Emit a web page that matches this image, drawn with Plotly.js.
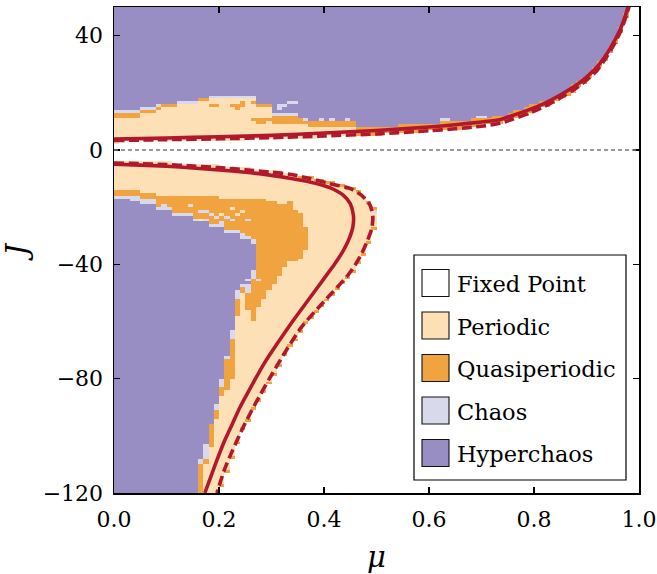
<!DOCTYPE html>
<html>
<head>
<meta charset="utf-8">
<script src="https://cdn.plot.ly/plotly-3.0.1.min.js"></script>
<style>html,body{margin:0;padding:0;background:#fff;}#chart{width:657px;height:574px;}</style>
</head>
<body>
<div id="chart"></div>
<script>
// ---------- categories ----------
const categories = ['Fixed Point', 'Periodic', 'Quasiperiodic', 'Chaos', 'Hyperchaos'];
const catColors = ['#ffffff', '#fee0b6', '#f1a340', '#d8daeb', '#998ec3'];

// ---------- grid (cell centres: mu = 0.005 + 0.01 k, J = -119.5 + r) ----------
const muFirst = 0.005, muStep = 0.01, nMu = 100;
const jFirst = -119.5, jStep = 1, nJ = 170;

// ---------- upper band (J > 0), one value per mu column ----------
const upBandLow = [2.5,2.6,2.6,2.7,2.7,2.7,2.8,2.8,2.9,2.9,
 2.9,3.0,3.0,3.1,3.1,3.1,3.2,3.2,3.3,3.3,
 3.3,3.4,3.4,3.5,3.5,3.6,3.6,3.7,3.7,3.8,
 3.8,3.9,4.0,4.1,4.2,4.2,4.3,4.4,4.5,4.6,
 4.6,4.7,4.8,4.9,4.9,5.0,5.1,5.2,5.3,5.4,
 5.5,5.6,5.7,5.9,6.0,6.1,6.2,6.3,6.5,6.6,
 6.7,6.9,7.0,7.2,7.3,7.5,7.7,7.9,8.1,8.4,
 8.6,8.8,9.1,9.5,9.9,10.4,11.0,11.6,12.3,13.1,
 13.9,14.6,15.4,16.3,17.2,18.3,19.4,20.5,21.7,23.2,
 24.9,26.7,28.7,31.2,34.2,37.2,41.2,46.2,99,99];
const upQuasiLow = [11.2,11.2,11.2,11.2,11.2,12.8,12.8,12.8,14.0,15.0,
 15.0,15.0,16.2,16.2,16.2,16.2,16.8,16.8,17.6,17.6,
 17.6,17.6,17.6,17.6,17.6,17.6,17.6,15.2,15.2,15.2,
 9.0,9.0,9.0,9.0,9.0,9.0,9.0,8.0,8.0,8.0,
 8.0,8.0,8.0,8.0,8.0,8.0,5.1,5.2,5.3,5.4,
 5.5,5.6,5.7,5.9,6.0,6.1,6.2,6.3,6.5,6.6,
 6.7,6.9,7.0,7.2,7.3,7.5,7.7,7.9,8.1,8.4,
 8.6,8.8,9.1,9.5,9.9,10.4,11.0,11.6,12.3,13.1,
 13.9,14.6,15.4,16.3,17.2,18.3,19.4,20.5,21.7,23.2,
 24.9,26.7,28.7,31.2,34.2,37.2,41.2,46.2,99,99];
const upChaosLow = [13.2,13.2,13.2,13.2,13.2,13.8,13.8,13.8,14.8,16.2,
 16.2,16.2,16.2,16.2,16.2,16.2,17.8,17.8,17.6,17.6,
 17.6,17.6,17.6,17.6,17.6,17.6,17.6,16.2,16.2,16.2,
 11.8,11.8,11.8,11.8,11.8,10.6,10.6,10.2,10.2,10.2,
 10.2,10.2,10.2,10.2,10.2,10.2,7.7,7.8,7.9,8.0,
 8.1,8.2,8.3,8.5,8.6,8.7,8.8,8.9,9.1,9.2,
 9.3,9.5,9.6,9.8,9.9,10.1,10.3,10.5,10.7,11.0,
 11.2,11.4,11.7,12.1,12.5,13.0,13.6,14.2,14.9,15.7,
 16.5,16.7,17.5,18.4,19.3,20.4,21.5,22.6,23.8,25.3,
 27.0,28.8,30.8,33.3,36.3,39.3,43.3,48.3,99,99];
const upHyperLow = [14.2,14.2,14.2,14.2,14.2,14.8,14.8,14.8,15.8,16.2,
 16.2,16.2,17.2,17.2,17.2,17.2,17.8,17.8,18.6,18.6,
 18.6,18.6,18.6,18.6,18.6,18.6,18.6,16.2,16.2,16.2,
 13.2,13.2,13.2,13.2,13.2,10.6,10.6,10.2,10.2,10.2,
 10.2,10.2,10.2,10.2,10.2,10.2,7.7,7.8,7.9,8.0,
 8.1,8.2,8.3,8.5,8.6,8.7,8.8,8.9,9.1,9.2,
 9.3,9.5,9.6,9.8,9.9,10.1,10.3,10.5,10.7,11.0,
 11.2,11.4,11.7,12.1,12.5,13.0,13.6,14.2,14.9,15.7,
 16.5,16.7,17.5,18.4,19.3,20.4,21.5,22.6,23.8,25.3,
 27.0,28.8,30.8,33.3,36.3,39.3,43.3,48.3,99,99];

// ---------- lower band (J < 0), columns mu = 0.005 .. 0.495 ----------
const lowBandTop = [-4.0,-4.1,-4.1,-4.1,-4.2,-4.2,-4.3,-4.4,-4.4,-4.5,
 -4.5,-4.6,-4.8,-4.9,-5.0,-5.1,-5.2,-5.3,-5.4,-5.5,
 -5.7,-5.8,-6.0,-6.1,-6.2,-6.4,-6.6,-6.8,-6.9,-7.1,
 -7.3,-7.5,-7.7,-7.9,-8.3,-8.7,-9.1,-9.5,-10.0,-10.4,
 -10.9,-11.4,-11.8,-12.3,-12.7,-13.5,-14.5,-16.0,-18.1,-20.0];
const lowQuasiTop = [-13.9,-13.9,-13.9,-13.9,-13.9,-14.6,-14.6,-14.6,-15.6,-15.6,
 -15.6,-15.6,-15.6,-15.6,-15.6,-15.6,-15.6,-15.6,-15.6,-15.6,
 -17.0,-17.0,-17.0,-17.0,-17.0,-17.0,-17.0,-17.0,-17.5,-18.0,
 -18.0,-19.0,-19.0,-18.5,-21.0,-22.0,-27.0,-59.3,-57.3,-55.2,
 -53.2,-51.2,-49.2,-47.2,-45.2,-42.9,-40.3,-37.2,-33.3,-28.5];
const lowChaosTop = [-16.5,-16.5,-16.5,-16.5,-16.5,-17.0,-17.0,-17.0,-20.0,-20.0,
 -20.0,-22.0,-22.0,-22.0,-22.0,-24.0,-24.0,-24.0,-26.0,-26.0,
 -26.0,-28.5,-28.5,-28.5,-30.5,-30.5,-31.0,-55.0,-52.0,-49.0,
 -47.0,-44.0,-41.0,-39.0,-39.0,-38.0,-35.0,-59.3,-57.3,-55.2,
 -53.2,-51.2,-49.2,-47.2,-45.2,-42.9,-40.3,-37.2,-33.3,-28.5];
const lowHyperTop = [-17.0,-17.0,-17.0,-18.0,-18.0,-19.5,-19.5,-19.5,-21.0,-21.0,
 -21.0,-23.0,-23.0,-23.0,-23.0,-25.0,-25.0,-25.0,-27.0,-27.0,
 -27.0,-29.5,-29.5,-29.5,-31.5,-31.5,-33.0,-55.0,-52.0,-49.0,
 -47.0,-44.0,-41.0,-39.0,-39.0,-38.0,-35.0,-59.3,-57.3,-55.2,
 -53.2,-51.2,-49.2,-47.2,-45.2,-42.9,-40.3,-37.2,-33.3,-28.5];
const lowHyperBottom = [-999,-999,-999,-999,-999,-999,-999,-999,-999,-999,
 -999,-999,-999,-999,-999,-999,-108,-103,-96,-89,
 -80,-73,-63,-49,-47,-47,-42,-55.0,-52.0,-49.0,
 -47.0,-44.0,-41.0,-39.0,-39.0,-38.0,-35.0,-59.3,-57.3,-55.2,
 -53.2,-51.2,-49.2,-47.2,-45.2,-42.9,-40.3,-37.2,-33.3,-28.5];
const lowChaosBottom = [-999,-999,-999,-999,-999,-999,-999,-999,-999,-999,
 -999,-999,-999,-999,-999,-999,-110,-108,-96,-91,
 -83,-73,-66,-52,-48,-50,-44,-55.0,-52.0,-49.0,
 -47.0,-44.0,-41.0,-39.0,-39.0,-38.0,-35.0,-59.3,-57.3,-55.2,
 -53.2,-51.2,-49.2,-47.2,-45.2,-42.9,-40.3,-37.2,-33.3,-28.5];
const lowQuasiBottom = [-999,-999,-999,-999,-999,-999,-999,-999,-999,-999,
 -999,-999,-999,-999,-999,-999,-121,-110,-104,-94,
 -86,-84,-80,-58,-50,-56,-60,-55.0,-52.0,-49.0,
 -47.0,-44.0,-41.0,-39.0,-39.0,-38.0,-35.0,-59.3,-57.3,-55.2,
 -53.2,-51.2,-49.2,-47.2,-45.2,-42.9,-40.3,-37.2,-33.3,-28.5];
const lowBandBottom = [-999,-999,-999,-999,-999,-999,-999,-999,-999,-999,
 -999,-999,-999,-999,-999,-999,-999,-999,-999,-999,
 -118.5,-113.5,-108.5,-103.5,-98.5,-94.9,-91.4,-88.1,-85.0,-82.0,
 -78.9,-75.7,-72.5,-69.5,-66.7,-63.8,-61.4,-59.3,-57.3,-55.2,
 -53.2,-51.2,-49.2,-47.2,-45.2,-42.9,-40.3,-37.2,-33.3,-28.5];

// ---------- isolated cells (column index, J centre, category index) ----------
const speckCol = [18,19,22,23,23,24,24,26,26,27,28,29,27,28,
  31,32,31,33,34,36,39,41,44,62,63,69,70,
  9,14,16,17,18,19,20,24,25,16,20,22,23,24,26,27,25,21,22,21,47,49];
const speckJ = [15.5,15.5,15.5,14.5,15.5,16.5,15.5,16.5,10.5,10.5,10.5,10.5,9.5,9.5,
  15.5,15.5,14.5,16.5,16.5,10.5,10.5,10.5,10.5,10.5,10.5,11.5,11.5,
  -19.5,-19.5,-21.5,-21.5,-22.5,-23.5,-25.5,-29.5,-24.5,-24.5,-22.5,-20.5,-22.5,-21.5,-44.5,-45.5,-45.5,-72.5,-24.5,-23.5,-16.5,-21.5];
const speckCat = [2,2,2,2,2,2,2,2,2,2,2,2,2,2,
  3,3,3,3,3,3,3,3,3,3,3,3,3,
  3,3,3,3,3,3,3,3,3,1,1,1,1,1,3,3,3,3,3,3,3,3];

// ---------- boundary curves (red) ----------
const muSolidUpper = [0,0.1,0.2,0.3,0.4,0.5,0.6,0.65,0.7,0.735,0.76,0.79,0.82,0.85,0.88,0.9,0.92,0.94,0.955,0.965,0.975,0.982];
const jSolidUpper  = [3.8,4.2,4.6,5.1,5.9,6.8,8.0,8.8,9.8,10.6,12.1,14.0,16.3,19.2,22.6,25.5,29.0,34.0,38.8,42.5,47.5,52];
const muDashedUpper = [0,0.1,0.2,0.3,0.4,0.5,0.6,0.65,0.7,0.735,0.76,0.79,0.82,0.85,0.88,0.9,0.92,0.94,0.955,0.965,0.975,0.984];
const jDashedUpper  = [3.3,3.6,3.9,4.3,4.9,5.6,6.7,7.4,8.3,9.3,10.8,12.8,15.2,18.2,21.6,24.4,27.8,33.0,37.7,41.5,46.5,52];
const muSolidLower = [0,0.05,0.1,0.15,0.2,0.25,0.3,0.335,0.373,0.411,0.437,0.45,0.456,0.455,0.448,0.437,0.42,0.40,0.37,0.34,0.31,0.285,0.262,0.24,0.225,0.21,0.193,0.173];
const jSolidLower  = [-5.0,-5.3,-5.7,-6.3,-7.0,-7.8,-8.9,-9.9,-11.2,-13.2,-15.9,-18.8,-22.9,-26.9,-31.0,-35.1,-40.0,-45.0,-52.5,-60.0,-68.0,-75.0,-82.5,-90.0,-96.0,-102.0,-110.0,-120.0];
const muDashedLower = [0,0.05,0.1,0.15,0.2,0.25,0.3,0.335,0.373,0.411,0.45,0.472,0.488,0.493,0.491,0.483,0.472,0.459,0.443,0.40,0.357,0.325,0.296,0.27,0.246,0.226,0.21,0.196];
const jDashedLower  = [-4.6,-4.8,-5.1,-5.6,-6.2,-6.9,-7.8,-8.5,-10.0,-11.8,-13.5,-15.9,-19.4,-23.4,-27.5,-31.6,-36.2,-40.3,-44.4,-53.0,-62.0,-71.0,-80.0,-88.5,-97.0,-105.0,-112.0,-120.0];

// ---------- axis ticks ----------
const xTickVals = [0, 0.2, 0.4, 0.6, 0.8, 1.0];
const xTickText = ['0.0', '0.2', '0.4', '0.6', '0.8', '1.0'];
const yTickVals = [-120, -80, -40, 0, 40];
const yTickText = ['\u2212120', '\u221280', '\u221240', '0', '40'];

// ---------- build category grid from the boundaries ----------
function classify(k, j) {
  if (j > 0) {
    if (j >= upHyperLow[k]) return 4;
    if (j >= upChaosLow[k]) return 3;
    if (j >= upQuasiLow[k]) return 2;
    if (j >= upBandLow[k]) return 1;
    return 0;
  }
  if (k >= lowBandTop.length) return 0;
  if (j > lowBandTop[k]) return 0;
  if (j > lowQuasiTop[k]) return 1;
  if (j > lowChaosTop[k]) return 2;
  if (j > lowHyperTop[k]) return 3;
  if (j > lowHyperBottom[k]) return 4;
  if (j > lowChaosBottom[k]) return 3;
  if (j > lowQuasiBottom[k]) return 2;
  if (j > lowBandBottom[k]) return 1;
  return 0;
}
const z = [];
for (let r = 0; r < nJ; r++) {
  const j = jFirst + r * jStep;
  const row = [];
  for (let k = 0; k < nMu; k++) row.push(classify(k, j));
  z.push(row);
}
// quasiperiodic rim on the outer edge of the lower band
for (let k = 0; k < lowBandTop.length; k++) {
  for (let r = 0; r < nJ; r++) {
    const j = jFirst + r * jStep;
    if (lowBandBottom[k] > -200 && j > lowBandBottom[k] && j - jStep <= lowBandBottom[k] && z[r][k] === 1) z[r][k] = 2;
    if (k >= 35 && j <= lowBandTop[k] && j + jStep > lowBandTop[k] && z[r][k] === 1) z[r][k] = 2;
  }
}
for (let i = 0; i < speckCol.length; i++) {
  const r = Math.round((speckJ[i] - jFirst) / jStep);
  z[r][speckCol[i]] = speckCat[i];
}

const colorscale = [];
catColors.forEach((c, i) => {
  const lo = i === 0 ? 0 : (i - 0.5) / 4, hi = i === 4 ? 1 : (i + 0.5) / 4;
  colorscale.push([lo, c]); colorscale.push([hi, c]);
});

const red = '#b2182b';
const traces = [
  { type: 'heatmap', z: z, x0: muFirst, dx: muStep, y0: jFirst, dy: jStep,
    zmin: 0, zmax: 4, colorscale: colorscale, showscale: false, zsmooth: false, hoverinfo: 'skip' },
  { type: 'scatter', mode: 'lines', x: muSolidUpper, y: jSolidUpper, line: { color: red, width: 3.6, shape: 'spline', smoothing: 0.6 }, showlegend: false },
  { type: 'scatter', mode: 'lines', x: muDashedUpper, y: jDashedUpper, line: { color: red, width: 3.6, dash: '10px,4.5px', shape: 'spline', smoothing: 0.6 }, showlegend: false },
  { type: 'scatter', mode: 'lines', x: muSolidLower, y: jSolidLower, line: { color: red, width: 3.6, shape: 'spline', smoothing: 0.6 }, showlegend: false },
  { type: 'scatter', mode: 'lines', x: muDashedLower, y: jDashedLower, line: { color: red, width: 3.6, dash: '10px,4.5px', shape: 'spline', smoothing: 0.6 }, showlegend: false }
];

// ---------- layout ----------
const W = 657, H = 574, L = 114, R = 18, T = 7, B = 81;
const pw = W - L - R, ph = H - T - B;
const px2x = p => (p - L) / pw;
const py2y = p => (H - B - p) / ph;
const fam = 'DejaVu Serif';

const shapes = [
  { type: 'line', xref: 'paper', yref: 'y', x0: 0, x1: 1, y0: 0, y1: 0, line: { color: '#7a7a7a', width: 1.4, dash: '4px,3px' }, layer: 'above' },
  { type: 'rect', xref: 'paper', yref: 'paper', x0: px2x(414), x1: px2x(626), y0: py2y(480), y1: py2y(255),
    line: { color: '#000', width: 1.2 }, fillcolor: '#fff', layer: 'above' }
];
const annotations = [];
const rowCentres = [283, 325.5, 368, 410.5, 453];
categories.forEach((name, i) => {
  const cy = rowCentres[i];
  shapes.push({ type: 'rect', xref: 'paper', yref: 'paper', x0: px2x(422), x1: px2x(449), y0: py2y(cy + 13.5), y1: py2y(cy - 13.5),
    line: { color: '#111', width: 1.1 }, fillcolor: catColors[i], layer: 'above' });
  annotations.push({ xref: 'paper', yref: 'paper', x: px2x(455), y: py2y(cy + 1), xanchor: 'left', yanchor: 'middle',
    text: name, showarrow: false, font: { family: fam, size: 22.5, color: '#000' } });
});

const axisCommon = {
  showgrid: false, zeroline: false, showline: true, linecolor: '#000', linewidth: 1.5,
  mirror: 'allticks', ticks: 'inside', ticklen: 6, tickwidth: 1.3, tickcolor: '#000',
  ticklabeloverflow: 'allow',
  tickfont: { family: fam, size: 22, color: '#000' }
};
const layout = {
  width: W, height: H, margin: { l: L, r: R, t: T, b: B, pad: 0 },
  paper_bgcolor: '#fff', plot_bgcolor: '#fff', showlegend: false,
  font: { family: fam },
  xaxis: Object.assign({}, axisCommon, { range: [0, 1], tickmode: 'array', tickvals: xTickVals, ticktext: xTickText,
    ticklabelstandoff: 6,
    title: { text: '<i>\u03bc</i>', font: { family: fam, size: 29, color: '#000' }, standoff: 17 } }),
  yaxis: Object.assign({}, axisCommon, { range: [-120, 50], tickmode: 'array', tickvals: yTickVals, ticktext: yTickText,
    ticklabelstandoff: 5,
    title: { text: '<i>J</i>', font: { family: fam, size: 29, color: '#000' }, standoff: 12 } }),
  shapes: shapes, annotations: annotations
};
Plotly.newPlot('chart', traces, layout, { staticPlot: true, displayModeBar: false });
</script>
</body>
</html>
